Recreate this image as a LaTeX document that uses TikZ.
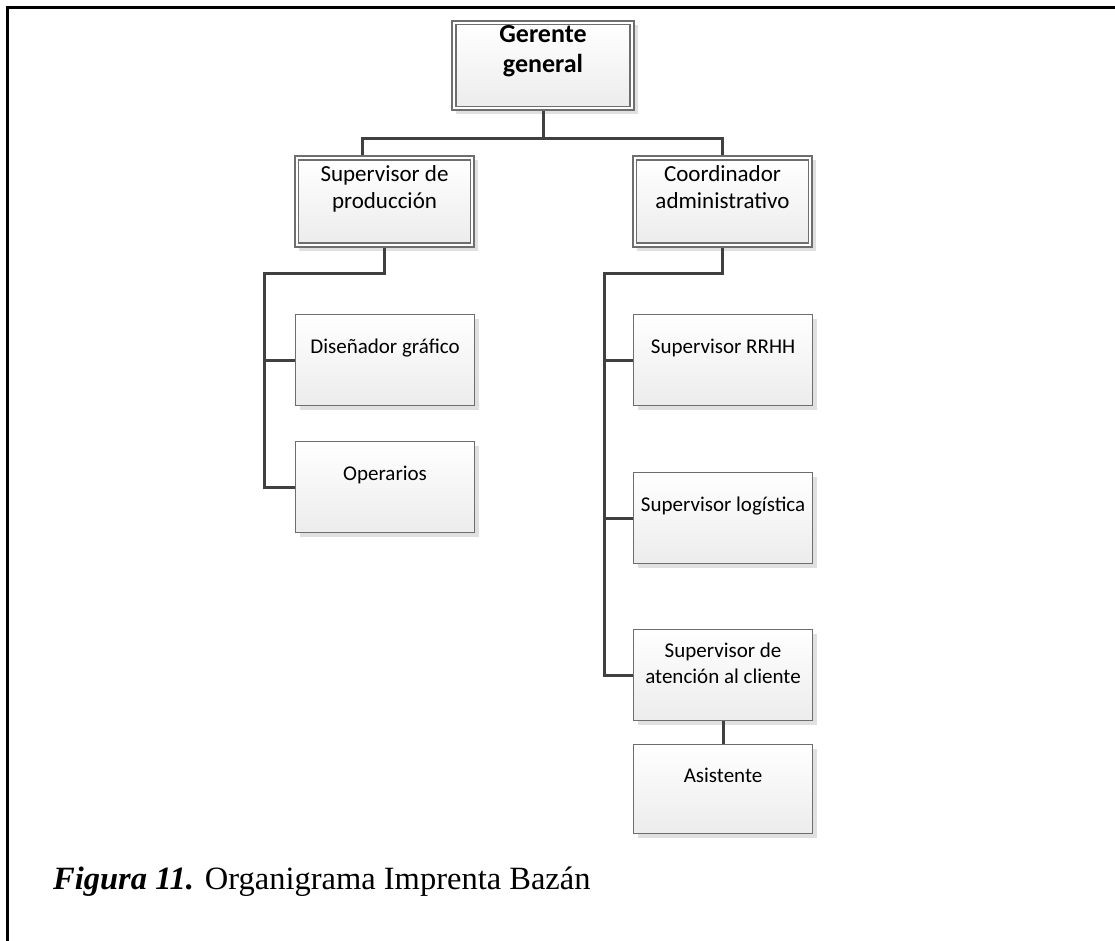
\documentclass[tikz,border=0pt]{standalone}
\usepackage{fontspec}
\setmainfont{Carlito}
\newfontfamily\capfont{Liberation Serif}
\usetikzlibrary{shadows}

\definecolor{boxline}{RGB}{110,110,110}
\definecolor{boxbot}{RGB}{236,236,236}
\definecolor{connline}{RGB}{64,64,64}

\begin{document}
\begin{tikzpicture}[x=1pt,y=-1pt,
  shadowed/.style={drop shadow={shadow xshift=4pt, shadow yshift=-4pt, fill=black, opacity=0.12}},
  unitbox/.style={draw=boxline, line width=1.1pt, top color=white, bottom color=boxbot,
    shadowed, minimum width=179pt, minimum height=91pt, inner sep=0pt, anchor=north west},
  outerbox/.style={draw=boxline, line width=1.1pt, fill=white, shadowed, inner sep=0pt},
  innerbox/.style={draw=boxline, line width=1.1pt, top color=white, bottom color=boxbot, inner sep=0pt},
  lbl/.style={inner sep=0pt, anchor=base, align=center, font=\fontsize{21}{26}\selectfont},
  midlbl/.style={lbl, font=\fontsize{23}{27}\selectfont},
  toplbl/.style={lbl, font=\fontsize{26}{30}\selectfont\bfseries},
  conn/.style={draw=connline, line width=3pt},
]
\useasboundingbox (0,0) rectangle (1115,940);

% page frame
\draw[line width=3pt] (7.5,945) -- (7.5,7.5) -- (1120,7.5);

% top level (multi-line labels are anchored at the baseline of their last line)
\node[outerbox, minimum width=182pt, minimum height=89pt] (gg) at (543,65.5) {};
\node[innerbox, minimum width=174pt, minimum height=82pt] (gg-in) at (gg.center) {};
\node[toplbl] (gg-t) at (543,72) {Gerente\\general};

% second level
\node[outerbox, minimum width=179pt, minimum height=91pt] (sp) at (384.5,201.5) {};
\node[innerbox, minimum width=172pt, minimum height=83pt] (sp-in) at (sp.center) {};
\node[midlbl] (sp-t) at (384.5,208) {Supervisor de\\producción};

\node[outerbox, minimum width=179pt, minimum height=91pt] (ca) at (722.5,201.5) {};
\node[innerbox, minimum width=172pt, minimum height=83pt] (ca-in) at (ca.center) {};
\node[midlbl] (ca-t) at (722.5,208) {Coordinador\\administrativo};

% production branch
\node[unitbox] (dg) at (295,314) {};
\node[lbl] (dg-t) at (dg.center |- 0,353) {Diseñador gráfico};
\node[unitbox] (op) at (295,441) {};
\node[lbl] (op-t) at (op.center |- 0,480) {Operarios};

% administrative branch
\node[unitbox] (rh) at (633,314) {};
\node[lbl] (rh-t) at (rh.center |- 0,353) {Supervisor RRHH};
\node[unitbox] (lg) at (633,472) {};
\node[lbl] (lg-t) at (lg.center |- 0,511) {Supervisor logística};
\node[unitbox] (at) at (633,629) {};
\node[lbl] (at-t) at (at.center |- 0,683) {Supervisor de\\atención al cliente};
\node[unitbox, minimum height=89pt] (as) at (633,744) {};
\node[lbl] (as-t) at (as.center |- 0,782) {Asistente};

% connectors
\coordinate (jtop) at (543,138);
\coordinate (jl) at (264,273);
\coordinate (jr) at (604,273);
\draw[conn] (gg.south) -- (jtop);
\draw[conn] ([xshift=68pt]sp.north west) |- (jtop) -| (ca.north);
\draw[conn] (sp.south) |- (jl) |- (op.west);
\draw[conn] (jl |- dg.west) -- (dg.west);
\draw[conn] (ca.south) |- (jr) |- (at.west);
\draw[conn] (jr |- rh.west) -- (rh.west);
\draw[conn] (jr |- lg.west) -- (lg.west);
\draw[conn] (at.south) -- (as.north);

% caption
\node[anchor=base west, inner sep=0pt, font=\capfont\fontsize{32.5}{39}\selectfont] (cap) at (53,889)
  {\textbf{\textit{Figura 11.}} Organigrama Imprenta Bazán};
\end{tikzpicture}
\end{document}
